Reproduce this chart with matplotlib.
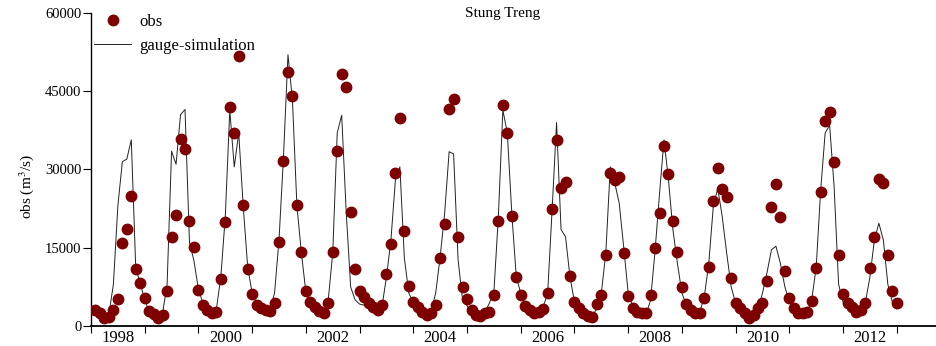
import numpy as np
import matplotlib
matplotlib.use("Agg")
import matplotlib.pyplot as plt

plt.rcParams['font.family'] = 'Liberation Serif'
plt.rcParams['mathtext.fontset'] = 'stix'

# monthly values, Jan 1998 .. Dec 2012 (one row per year)
obs = [
    3070, 2490, 1530, 1730, 3070, 5180, 15910, 18600, 24920, 10930, 8240, 5370,
    2880, 2300, 1530, 2110, 6710, 17060, 21280, 35850, 33930, 20130, 15140, 6900,
    4030, 3070, 2490, 2680, 9010, 19940, 41980, 37000, 51760, 23200, 10930, 6130,
    4030, 3450, 3070, 2880, 4410, 16100, 31630, 48690, 44090, 23200, 14190, 6710,
    4600, 3640, 2880, 2490, 4410, 14190, 33550, 48310, 45820, 21860, 10930, 6710,
    5620, 4350, 3700, 3070, 4030, 9900, 15720, 29390, 39820, 18280, 7670, 4660,
    3700, 2740, 2110, 2430, 4030, 12970, 19550, 41540, 43460, 17000, 7410, 5110,
    3070, 2110, 1920, 2430, 2740, 5940, 20190, 42300, 37060, 21090, 9330, 5940,
    3830, 3070, 2430, 2740, 3200, 6260, 22370, 35660, 26400, 27550, 9590, 4660,
    3390, 2430, 1920, 1670, 4220, 5940, 13610, 29270, 27990, 28620, 13930, 5750,
    3390, 2740, 2430, 2430, 5940, 14890, 21600, 34570, 29080, 20190, 14250, 7410,
    4220, 3070, 2430, 2550, 5310, 11370, 24020, 30350, 26210, 24670, 9140, 4350,
    3390, 2430, 1500, 2110, 3390, 4470, 8630, 22870, 27300, 20950, 10600, 5400,
    3390, 2550, 2430, 2740, 4850, 11060, 25630, 39360, 40960, 31380, 13610, 6130,
    4350, 3580, 2740, 3070, 4410, 11180, 17000, 28120, 27470, 13610, 6710, 4350,
]
sim = [
    3300, 2500, 2000, 2200, 8000, 23000, 31500, 32000, 35700, 11000, 8200, 5000,
    2700, 2000, 1600, 2500, 8000, 33500, 31000, 40500, 41500, 16000, 12500, 7000,
    4400, 3000, 2500, 3200, 9400, 21000, 41400, 30500, 37000, 23000, 11300, 6300,
    4400, 3300, 2900, 3200, 6300, 16500, 32500, 52000, 43300, 23000, 14000, 6500,
    4500, 3300, 2700, 2300, 5000, 14000, 37000, 40400, 22000, 7500, 5000, 4200,
    4000, 3300, 2700, 2300, 3700, 9400, 16500, 28000, 30500, 13000, 6300, 4600,
    3700, 3000, 2300, 3000, 6300, 13300, 21600, 33400, 33000, 12700, 5000, 3900,
    2300, 1900, 2100, 2700, 4400, 6500, 21000, 41400, 37000, 21600, 9400, 6300,
    4000, 3000, 2500, 2700, 3700, 6100, 22200, 39000, 18500, 17100, 9400, 4600,
    3300, 2400, 2000, 2000, 3300, 6300, 14000, 30500, 27400, 23500, 15100, 6300,
    3900, 2700, 2100, 2100, 5000, 14400, 25400, 35700, 28000, 18400, 12000, 6300,
    4000, 2700, 2100, 2700, 5600, 12000, 22800, 26400, 21000, 14000, 7500, 4400,
    3300, 2300, 1700, 2000, 3300, 6300, 10200, 14600, 15300, 12000, 7500, 4600,
    3300, 2300, 2300, 2700, 5000, 11300, 26100, 37000, 38500, 26700, 8000, 4600,
    3600, 2700, 2300, 2700, 4600, 9400, 16500, 19700, 16500, 8000, 4600, 3300,
]
label_years = [1998, 2000, 2002, 2004, 2006, 2008, 2010, 2012]

t = 1998 + np.arange(1, len(obs) + 1) / 12.0

fig = plt.figure(figsize=(9.36, 3.46), dpi=100)
ax = fig.add_axes([91/936, 1 - 326/346, 1 - 91/936, 313/346])

ln, = ax.plot(t, sim, color='#222222', lw=0.7, zorder=2)
pt, = ax.plot(t, obs, 'o', color='#7f0000', ms=7.5, mec='#7f0000', zorder=3)

ax.set_xlim(1998, 2013.73)
ax.set_ylim(0, 60000)
ax.set_yticks([0, 15000, 30000, 45000, 60000])
ax.set_yticklabels(['0', '15000', '30000', '45000', '60000'], fontsize=10.5)
ax.set_xticks(range(1998, 2014))
ax.set_xticklabels([])
ax.set_xticks([y + 0.5 for y in label_years], minor=True)
ax.set_xticklabels([str(y) for y in label_years], minor=True, fontsize=12)
ax.tick_params(axis='x', which='major', direction='out', length=5, width=0.8)
ax.tick_params(axis='x', which='minor', length=0, pad=3)
ax.tick_params(axis='y', direction='out', length=6, width=0.8, pad=1)

for s in ['top', 'right']:
    ax.spines[s].set_visible(False)
ax.spines['bottom'].set_linewidth(1.3)
ax.spines['left'].set_linewidth(1.0)

ax.legend([pt, ln], ['obs', 'gauge-simulation'], loc='upper left',
          bbox_to_anchor=(-0.008, 1.03), frameon=False, fontsize=12,
          handlelength=2.2, handletextpad=0.5, labelspacing=0.5,
          borderaxespad=0.2)

fig.text(503/936, 1 - 14/346, 'Stung Treng', ha='center', va='center', fontsize=11)
fig.text(27/936, 1 - 187/346, 'obs (m$^3$/s)', ha='center', va='center',
         rotation=90, fontsize=11)

fig.savefig('out.png', dpi=100)
